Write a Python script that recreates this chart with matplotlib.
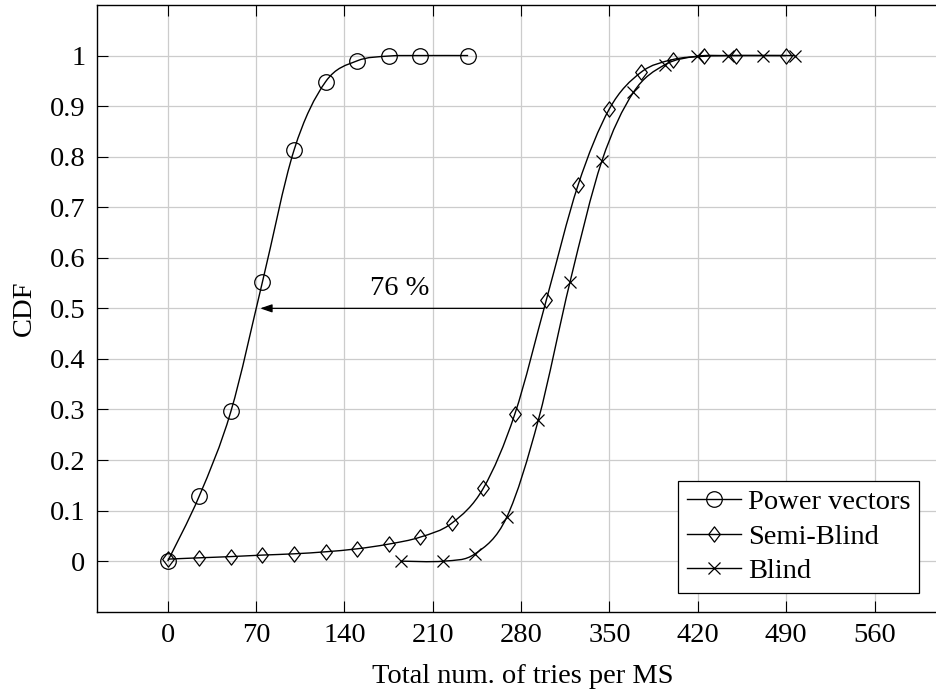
import numpy as np
import matplotlib
matplotlib.use("Agg")
import matplotlib.pyplot as plt
from matplotlib.path import Path
from matplotlib.patches import PathPatch
from matplotlib.lines import Line2D

plt.rcParams['font.family'] = ['Liberation Serif', 'DejaVu Serif']
plt.rcParams['font.size'] = 20.5

# data
power_x = [0, 25, 50, 75, 100, 125, 150, 175, 200, 238]
power_y = [0.0, 0.129, 0.296, 0.552, 0.8125, 0.948, 0.9895, 0.999, 1.0, 1.0]

semi_x = [0, 25, 50, 75, 100, 125, 150, 175, 200, 225, 250, 275, 300, 325, 350,
          375, 400, 425, 450, 490]
semi_y = [0.004, 0.0066, 0.009, 0.012, 0.0145, 0.0185, 0.0244, 0.0337, 0.0475,
          0.075, 0.144, 0.291, 0.517, 0.743, 0.895, 0.967, 0.992, 0.9986, 1.0, 1.0]

blind_x = [185, 218.4, 243.5, 268.6, 293.7, 318.8, 343.9, 368.9, 394, 419.2,
           443.7, 472, 497]
blind_y = [0.0, 0.0, 0.0145, 0.087, 0.28, 0.553, 0.791, 0.927, 0.982, 0.9986,
           1.0, 1.0, 1.0]

xticks = [0, 70, 140, 210, 280, 350, 420, 490, 560]
yticks = [0, 0.1, 0.2, 0.3, 0.4, 0.5, 0.6, 0.7, 0.8, 0.9, 1.0]
ytick_labels = ["0", "0.1", "0.2", "0.3", "0.4", "0.5", "0.6", "0.7", "0.8", "0.9", "1"]

# custom diamond, a bit taller than wide like pgfplots
diamond = Path([(0, 1), (0.76, 0), (0, -1), (-0.76, 0), (0, 1)],
               [Path.MOVETO, Path.LINETO, Path.LINETO, Path.LINETO, Path.CLOSEPOLY])


def smooth(x, y, k=1.0 / 6):
    # cubic bezier through the points, like tikz "smooth"
    pts = np.column_stack([x, y]).astype(float)
    n = len(pts)
    verts = [pts[0]]
    codes = [Path.MOVETO]
    for i in range(n - 1):
        p0 = pts[i - 1] if i > 0 else pts[i]
        p1 = pts[i]
        p2 = pts[i + 1]
        p3 = pts[i + 2] if i + 2 < n else pts[i + 1]
        verts += [p1 + (p2 - p0) * k, p2 - (p3 - p1) * k, p2]
        codes += [Path.CURVE4] * 3
    return Path(verts, codes)


fig = plt.figure(figsize=(9.36, 6.93), dpi=100)
ax = fig.add_axes([0.1033, 0.1173, 0.9106, 0.8755])

series = [
    (power_x, power_y, 'o', 11.2, "Power vectors"),
    (semi_x, semi_y, diamond, 11.0, "Semi-Blind"),
    (blind_x, blind_y, 'x', 9.0, "Blind"),
]
handles = []
for xs, ys, mk, ms, lab in series:
    ax.add_patch(PathPatch(smooth(xs, ys), facecolor='none', edgecolor='k',
                           lw=1.0, zorder=3))
    ax.plot(xs, ys, ls='none', marker=mk, ms=ms, mfc='none', mec='k', mew=0.9,
            zorder=4)
    handles.append(Line2D([], [], color='k', lw=1.0, marker=mk, ms=ms, mfc='none',
                          mec='k', mew=0.9, label=lab))

ax.annotate("", xy=(73.2, 0.5), xytext=(298, 0.5),
            arrowprops=dict(arrowstyle='-|>,head_length=0.35,head_width=0.12',
                            color='k', lw=0.9, shrinkA=0, shrinkB=0))
ax.text(184, 0.526, "76 %", ha='center', va='baseline')

ax.set_xlim(-56.3, 619)
ax.set_ylim(-0.1, 1.1)
ax.set_xticks(xticks)
ax.set_yticks(yticks)
ax.set_yticklabels(ytick_labels)
ax.grid(True, color='#cccccc', lw=0.9)
ax.set_axisbelow(True)
ax.tick_params(direction='in', length=8, width=0.8, top=True, right=True)
ax.tick_params(axis='y', pad=8)
ax.tick_params(axis='x', pad=8)
for s in ax.spines.values():
    s.set_linewidth(1.0)

ax.set_xlabel("Total num. of tries per MS", labelpad=12)
ax.set_ylabel("CDF", labelpad=9)

leg = ax.legend(handles=handles, loc='lower right', bbox_to_anchor=(0.965, 0.031),
                borderaxespad=0, fancybox=False, framealpha=1, edgecolor='k',
                handlelength=1.9, handletextpad=0.25, labelspacing=0.3,
                borderpad=0.3)
leg.get_frame().set_linewidth(0.9)

fig.savefig("out.png", dpi=100)
